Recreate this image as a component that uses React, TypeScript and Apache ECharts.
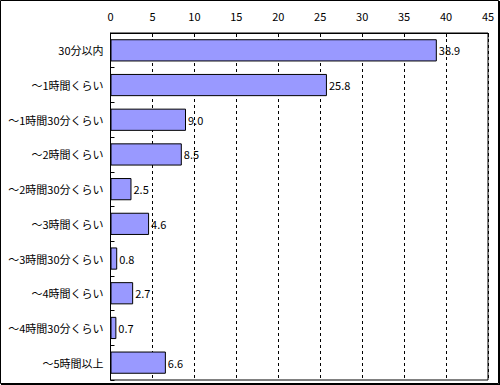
import React, { useEffect, useRef } from "react";
import * as echarts from "echarts";

const categories = [
  "30分以内",
  "～1時間くらい",
  "～1時間30分くらい",
  "～2時間くらい",
  "～2時間30分くらい",
  "～3時間くらい",
  "～3時間30分くらい",
  "～4時間くらい",
  "～4時間30分くらい",
  "～5時間以上",
];
const values = [38.9, 25.8, 9.0, 8.5, 2.5, 4.6, 0.8, 2.7, 0.7, 6.6];

const FONT = "'Noto Sans CJK JP', sans-serif";

export default function App() {
  const ref = useRef<HTMLDivElement>(null);
  useEffect(() => {
    if (!ref.current) return;
    const chart = echarts.init(ref.current, undefined, { renderer: "svg" });
    chart.setOption({
      animation: false,
      backgroundColor: "#ffffff",
      grid: {
        left: 110.5,
        right: 12,
        top: 33,
        bottom: 5,
        show: true,
        borderColor: "#000",
        borderWidth: 1,
        backgroundColor: "transparent",
      },
      xAxis: {
        type: "value",
        position: "top",
        min: 0,
        max: 45,
        interval: 5,
        axisLine: { show: true, lineStyle: { color: "#000", width: 1 } },
        axisTick: { show: true, inside: true, length: 4, lineStyle: { color: "#000" } },
        axisLabel: { color: "#000", fontFamily: FONT, fontSize: 11, margin: 12 },
        splitLine: { show: true, lineStyle: { color: "#000", type: [3, 3], width: 1 } },
      },
      yAxis: {
        type: "category",
        inverse: true,
        data: categories,
        axisLine: { show: true, lineStyle: { color: "#000", width: 1 } },
        axisTick: { show: true, inside: true, length: 4, lineStyle: { color: "#000" } },
        axisLabel: { color: "#000", fontFamily: FONT, fontSize: 11, margin: 7 },
        splitLine: { show: false },
      },
      series: [
        {
          type: "bar",
          data: values,
          barWidth: "64%",
          itemStyle: { color: "#9999FF", borderColor: "#000", borderWidth: 1 },
          label: {
            show: true,
            position: "right",
            distance: 2,
            color: "#000",
            fontFamily: FONT,
            fontSize: 11,
            formatter: (p: any) => Number(p.value).toFixed(1),
          },
        },
      ],
      graphic: [
        {
          type: "rect",
          shape: { x: 0.5, y: 0.5, width: 498, height: 383 },
          style: { fill: "none", stroke: "#000", lineWidth: 1 },
          silent: true,
        },
        {
          type: "line",
          shape: { x1: 499.5, y1: 1, x2: 499.5, y2: 385 },
          style: { stroke: "#000", lineWidth: 1 },
          silent: true,
        },
        {
          type: "line",
          shape: { x1: 1, y1: 384.5, x2: 500, y2: 384.5 },
          style: { stroke: "#000", lineWidth: 1 },
          silent: true,
        },
      ],
    });
    return () => chart.dispose();
  }, []);
  return (
    <div
      ref={ref}
      style={{ position: "fixed", left: 0, top: 0, width: 500, height: 385 }}
    />
  );
}
